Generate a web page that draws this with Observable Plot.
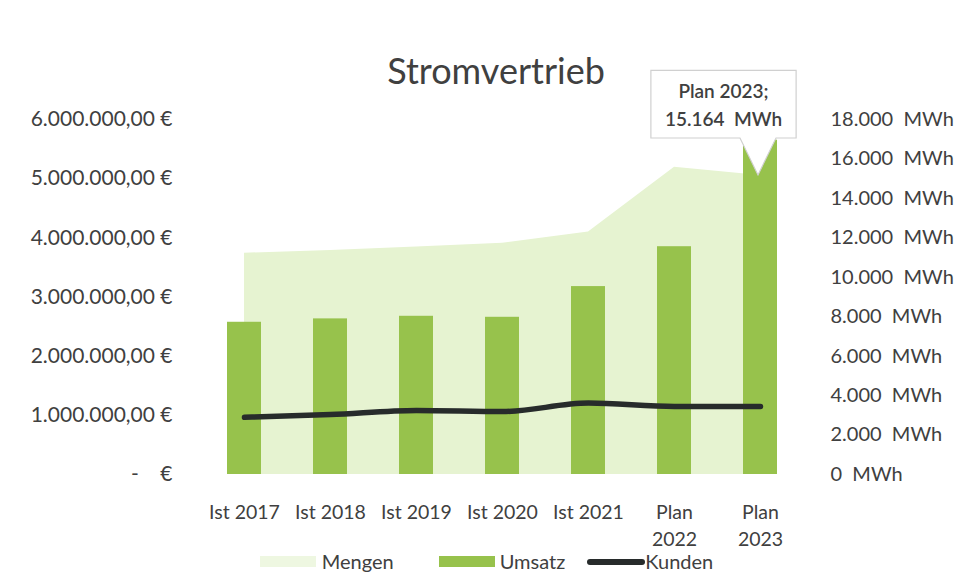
<!DOCTYPE html>
<html><head><meta charset="utf-8">
<script src="https://cdn.jsdelivr.net/npm/d3@7"></script>
<script src="https://cdn.jsdelivr.net/npm/@observablehq/plot@0.6"></script>
<style>
body{margin:0;background:#fff;font-family:Lato,"Open Sans",sans-serif;color:#404040}
#wrap{width:964px;height:573px;position:relative;overflow:hidden;background:#fff}
#title{height:45px;padding-top:50px;line-height:40px;font-size:36px;text-align:center;padding-left:28px}
#chart{height:455px}
#chart svg{overflow:visible}
#legend{height:21px;margin-top:1px;line-height:21px;font-size:20px;display:flex;justify-content:center;align-items:center;padding-left:9px;white-space:nowrap}
#legend .sw{display:inline-block;width:56px;height:11px;margin-right:6px}
#legend .ln{display:inline-block;width:58px;height:6px;border-radius:3px;background:#272b2b;margin-right:0}
#legend .it{display:flex;align-items:center}
</style></head>
<body>
<div id="wrap">
  <div id="title">Stromvertrieb</div>
  <div id="chart"></div>
  <div id="legend">
    <div class="it" style="margin-right:45px"><span class="sw" style="background:#eef7e1"></span><span>Mengen</span></div>
    <div class="it" style="margin-right:22px"><span class="sw" style="background:#97c24c;margin-right:5px"></span><span>Umsatz</span></div>
    <div class="it"><span class="ln"></span><span>Kunden</span></div>
  </div>
</div>
<script>
// ---- data ----
const categories = ["Ist 2017", "Ist 2018", "Ist 2019", "Ist 2020", "Ist 2021", "Plan\n2022", "Plan\n2023"];
const umsatz = [2573000, 2630000, 2674000, 2657000, 3176000, 3850000, 5650000]; // € (left axis)
const mengen = [11220, 11360, 11530, 11730, 12290, 15580, 15164];             // MWh (right axis)
const kunden = [2900, 3040, 3250, 3190, 3620, 3450, 3450];                    // on right axis
const euroTicks = [0, 1000000, 2000000, 3000000, 4000000, 5000000, 6000000];
const mwhTicks = [0, 2000, 4000, 6000, 8000, 10000, 12000, 14000, 16000, 18000];
const calloutIndex = 6;

// secondary axis alignment: 18.000 MWh sits at 6.000.000 €
const K = 6000000 / 18000;

const de = d3.formatLocale({decimal: ",", thousands: ".", grouping: [3], currency: ["", " €"]});
const fmt2 = de.format(",.2f");
const fmt0 = de.format(",.0f");
const fmtEur = v => v === 0 ? "-    €" : fmt2(v) + " €";
const fmtMwh = v => fmt0(v) + "  MWh";

const rows = categories.map((c, i) => ({cat: c, umsatz: umsatz[i], mengen: mengen[i], kunden: kunden[i]}));

const textColor = "#404040";
const chart = Plot.plot({
  width: 964, height: 455,
  marginLeft: 200, marginRight: 160, marginTop: 24, marginBottom: 76,
  style: {fontFamily: "Lato, 'Open Sans', sans-serif", fontSize: "20px", color: textColor, background: "transparent", overflow: "visible"},
  x: {domain: categories, paddingInner: 0.6, paddingOuter: 0.3, axis: null},
  y: {domain: [0, 6000000], axis: null},
  marks: [
    Plot.areaY(rows, {x: "cat", y: d => d.mengen * K, fill: "#e6f3d1"}),
    Plot.barY(rows, {x: "cat", y: "umsatz", fill: "#97c24c"}),
    Plot.line(rows, {x: "cat", y: d => d.kunden * K, stroke: "#272b2b", strokeWidth: 5.5, curve: "monotone-x", strokeLinecap: "round"}),
    Plot.axisX({anchor: "bottom", tickSize: 0, tickPadding: 25, fontSize: 19.5, lineHeight: 1.38, fill: textColor, label: null}),
    Plot.axisY({anchor: "left", ticks: euroTicks, tickFormat: fmtEur, tickSize: 0, tickPadding: 28, fontSize: 21, fill: textColor, label: null}),
    Plot.axisY({anchor: "right", ticks: mwhTicks.map(v => v * K), tickFormat: v => fmtMwh(Math.round(v / K)), tickSize: 0, tickPadding: 26, fontSize: 20, fill: textColor, label: null}),
    Plot.text([rows[calloutIndex]], {
      x: "cat", y: d => d.mengen * K,
      text: d => "Plan 2023;\n" + fmtMwh(d.mengen),
      dx: -37, dy: -72, lineHeight: 1.45, fontSize: 19, fontWeight: 600, fill: textColor,
      lineAnchor: "middle", textAnchor: "middle"
    })
  ]
});
document.getElementById("chart").append(chart);

// callout box with pointer, built around the label text
(function () {
  const groups = chart.querySelectorAll('g[aria-label="text"]');
  const g = groups[groups.length - 1];
  const r = g.getBoundingClientRect();
  const s = chart.getBoundingClientRect();
  const bx = r.left - s.left, by = r.top - s.top;
  const xs = chart.scale("x"), ys = chart.scale("y");
  const d = rows[calloutIndex];
  const px = xs.apply(d.cat) + xs.bandwidth / 2;
  const py = ys.apply(d.mengen * K);
  const x0 = bx - 14, x1 = bx + r.width + 14, y0 = by - 9, y1 = by + r.height + 8;
  const path = `M${x0},${y0}H${x1}V${y1}H${px + 16}L${px - 2},${py}L${px - 20},${y1}H${x0}Z`;
  const p = document.createElementNS("http://www.w3.org/2000/svg", "path");
  p.setAttribute("d", path);
  p.setAttribute("fill", "#fff");
  p.setAttribute("stroke", "#d0d0d0");
  p.setAttribute("stroke-width", "1.2");
  g.parentNode.insertBefore(p, g);
})();
</script>
</body></html>
